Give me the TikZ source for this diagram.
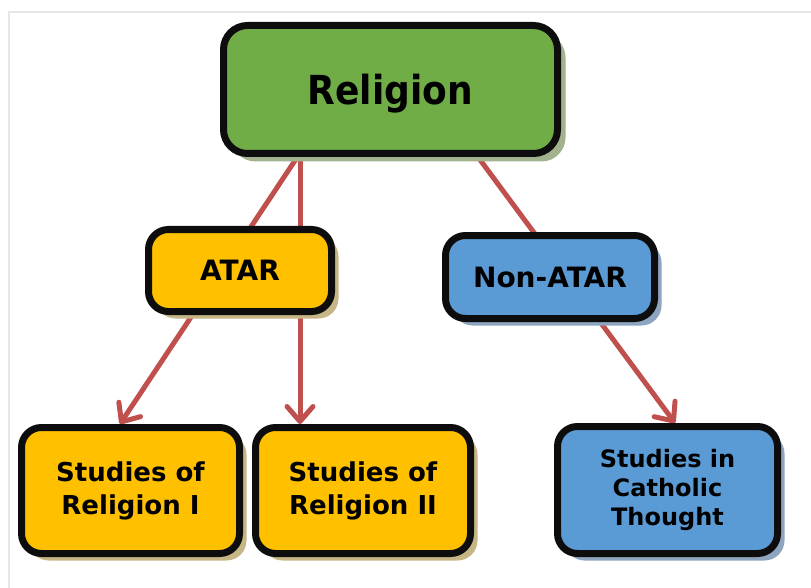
\documentclass[tikz,border=0pt]{standalone}
\usepackage{fontspec}
\setmainfont{DejaVu Sans}
\newfontfamily\titlefont{DejaVu Sans}[FakeStretch=0.9]
\usetikzlibrary{arrows.meta,shadows,backgrounds}

\definecolor{boxgreen}{HTML}{70AD47}
\definecolor{boxyellow}{HTML}{FFC000}
\definecolor{boxblue}{HTML}{5B9BD5}
\definecolor{shadegreen}{HTML}{A2B18E}
\definecolor{shadeyellow}{HTML}{C6B585}
\definecolor{shadeblue}{HTML}{8DA5BF}
\definecolor{linkred}{HTML}{C0504D}
\definecolor{framegray}{HTML}{E6E6E6}

\begin{document}
\begin{tikzpicture}[x=1pt,y=-1pt,
    box/.style={draw=black!95,line width=7pt,rounded corners=20pt,align=center,inner sep=0pt},
    link/.style={draw=linkred,line width=5pt,-{Straight Barb[length=15pt,width=26pt,round]}}]
        \useasboundingbox (0,0) rectangle (811,588);
        \draw[framegray,line width=1.2pt] (9,588) -- (9,12) -- (811,12);

        \node[box,fill=boxgreen,minimum width=334pt,minimum height=128pt,rounded corners=24pt,
              drop shadow={shadow xshift=8pt,shadow yshift=-8pt,fill=shadegreen,opacity=1},
              text depth=0pt,font=\titlefont\fontsize{40}{48}\selectfont\bfseries] (religion) at (390.5,89.5) {Religion};
        \node[box,fill=boxyellow,minimum width=183pt,minimum height=82pt,
              drop shadow={shadow xshift=7pt,shadow yshift=-7pt,fill=shadeyellow,opacity=1},
              font=\fontsize{28}{33}\selectfont\bfseries] (atar) at (240,270.5) {ATAR};
        \node[box,fill=boxblue,minimum width=209pt,minimum height=83pt,
              drop shadow={shadow xshift=7pt,shadow yshift=-7pt,fill=shadeblue,opacity=1},
              font=\fontsize{28}{33}\selectfont\bfseries] (nonatar) at (550,277) {Non-ATAR};
        \node[box,fill=boxyellow,minimum width=218pt,minimum height=126pt,
              drop shadow={shadow xshift=7pt,shadow yshift=-7pt,fill=shadeyellow,opacity=1},
              font=\fontsize{26}{33}\selectfont\bfseries] (sorone) at (130.5,490.5) {Studies of\\Religion I};
        \node[box,fill=boxyellow,minimum width=215pt,minimum height=126pt,
              drop shadow={shadow xshift=7pt,shadow yshift=-7pt,fill=shadeyellow,opacity=1},
              font=\fontsize{26}{33}\selectfont\bfseries] (sortwo) at (363,490.5) {Studies of\\Religion II};
        \node[box,fill=boxblue,minimum width=220pt,minimum height=127pt,
              drop shadow={shadow xshift=7pt,shadow yshift=-7pt,fill=shadeblue,opacity=1},
              font=\fontsize{24}{29}\selectfont\bfseries] (sict) at (667.5,490) {Studies in\\Catholic\\Thought};

        \begin{scope}[on background layer]
	\path ([xshift=-90.5pt,yshift=4pt]religion.south) edge[link] ([xshift=-10.5pt]sorone.north);
	\path ([xshift=-90.5pt,yshift=4pt]religion.south) edge[link] ([xshift=-63pt]sortwo.north);
	\path ([xshift=84.5pt,yshift=4pt]religion.south) edge[link] ([xshift=7.5pt]sict.north);
        \end{scope}
\end{tikzpicture}
\end{document}
